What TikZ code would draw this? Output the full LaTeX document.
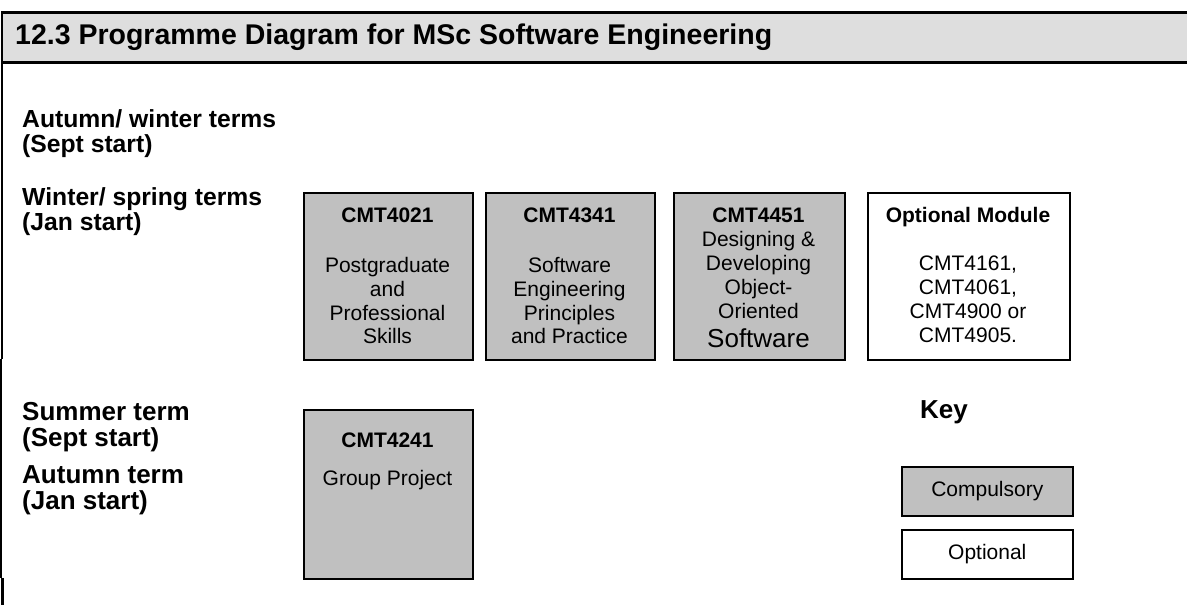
\documentclass[tikz,border=0pt]{standalone}
\usepackage{fontspec}
\setmainfont{Liberation Sans}
\definecolor{bargray}{RGB}{222,222,222}
\definecolor{compgray}{RGB}{192,192,192}
\begin{document}
\begin{tikzpicture}[x=1pt,y=-1pt,
  modbox/.style={draw=black, line width=1.6pt, fill=compgray, inner sep=0pt, anchor=north west},
  optbox/.style={modbox, fill=white},
  modtitle/.style={anchor=base, inner sep=0pt, font=\bfseries\fontsize{21}{24}\selectfont},
  modline/.style={anchor=base, inner sep=0pt, font=\fontsize{21}{24}\selectfont},
  termtop/.style={anchor=base west, inner sep=0pt, font=\bfseries\fontsize{24.7}{24}\selectfont},
  termbot/.style={anchor=base west, inner sep=0pt, font=\bfseries\fontsize{26}{24}\selectfont},
  keybox/.style={draw=black, line width=1.6pt, inner sep=0pt, minimum width=171, minimum height=49, anchor=north west, font=\fontsize{21}{24}\selectfont}
]
\useasboundingbox (0,0) rectangle (1187,605);
\fill[white] (0,0) rectangle (1187,605);
% title bar
\node[fill=bargray, inner sep=0pt, minimum width=1186, minimum height=50, anchor=north west] (bar) at (1,12.5) {};
\draw[line width=3pt] (bar.north west) -- (bar.north east);
\draw[line width=3pt] (bar.south west) -- (bar.south east);
\draw[line width=0.8pt] (bar.north east) -- (bar.south east);
\node[anchor=base west, inner sep=0pt, font=\bfseries\fontsize{28.5}{30}\selectfont] (title) at (15,45) {12.3 Programme Diagram for MSc Software Engineering};
% left border
\coordinate (lb1) at (1.8,12);
\coordinate (lb2) at (1.8,359);
\coordinate (lb3) at (1.2,359);
\coordinate (lb4) at (1.2,578);
\coordinate (lb5) at (2.2,578);
\coordinate (lb6) at (2.2,605);
\draw[line width=2.4pt] (lb1) -- (lb2);
\draw[line width=1.6pt] (lb3) -- (lb4);
\draw[line width=3pt] (lb5) -- (lb6);
% term labels
\node[termtop] (t1a) at (22,127) {Autumn/ winter terms};
\node[termtop] (t1b) at (22,152) {(Sept start)};
\node[termtop] (t2a) at (22,205) {Winter/ spring terms};
\node[termtop] (t2b) at (22,230) {(Jan start)};
\node[termbot] (t3a) at (22,420) {Summer term};
\node[termbot] (t3b) at (22,446) {(Sept start)};
\node[termbot] (t4a) at (22,483) {Autumn term};
\node[termbot] (t4b) at (22,509) {(Jan start)};
% module boxes
\node[modbox, minimum width=169, minimum height=167] (m1) at (303,192) {};
\node[modbox, minimum width=169, minimum height=167] (m2) at (485,192) {};
\node[modbox, minimum width=171, minimum height=167] (m3) at (673,192) {};
\node[optbox, minimum width=202, minimum height=167] (m4) at (867,192) {};
\node[modbox, minimum width=169, minimum height=169] (m5) at (303,409) {};
% box texts
\node[modtitle] (m1t) at (387.5,222) {CMT4021};
\foreach \yy/\t [count=\i] in {272/Postgraduate, 296/and, 320/Professional, 343/Skills}
  \node[modline] (m1l\i) at (387.5,\yy) {\t};
\node[modtitle] (m2t) at (569.5,222) {CMT4341};
\foreach \yy/\t [count=\i] in {272/Software, 296/Engineering, 320/Principles, 343/and Practice}
  \node[modline] (m2l\i) at (569.5,\yy) {\t};
\node[modtitle] (m3t) at (758.5,222) {CMT4451};
\foreach \yy/\t [count=\i] in {246/Designing \&, 270/Developing, 294/Object-, 318/Oriented}
  \node[modline] (m3l\i) at (758.5,\yy) {\t};
\node[modline, font=\fontsize{26}{28}\selectfont] (m3l5) at (758.5,347) {Software};
\node[modtitle] (m4t) at (968,222) {Optional Module};
\foreach \yy/\t [count=\i] in {270/{CMT4161,}, 294/{CMT4061,}, 318/CMT4900 or, 342/CMT4905.}
  \node[modline] (m4l\i) at (968,\yy) {\t};
\node[modtitle] (m5t) at (387.5,447) {CMT4241};
\node[modline] (m5l1) at (387.5,485) {Group Project};
% key
\node[anchor=base west, inner sep=0pt, font=\bfseries\fontsize{26}{28}\selectfont] (key) at (920,418) {Key};
\node[keybox, fill=compgray] (kc) at (901,466) {Compulsory};
\node[keybox, fill=white] (ko) at (901,529) {Optional};
\end{tikzpicture}
\end{document}
